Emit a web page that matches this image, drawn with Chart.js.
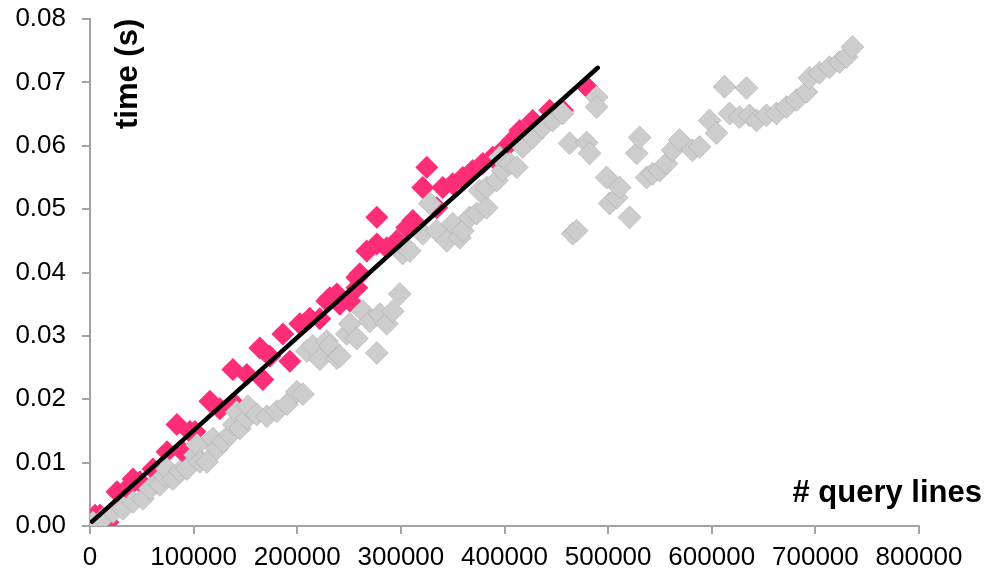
<!DOCTYPE html>
<html>
<head>
<meta charset="utf-8">
<script src="https://cdn.jsdelivr.net/npm/chart.js@4.4.1/dist/chart.umd.min.js"></script>
<style>
  html, body { margin: 0; padding: 0; background: #fff; }
  canvas { display: block; }
</style>
</head>
<body>
<canvas id="timeChart" width="987" height="571"></canvas>
<script>
// gray series (all runs)
const grayX = [2900, 12500, 22200, 31800, 41500, 51100, 57900, 65000, 67500, 72300, 74300, 80000, 86800, 93500,
  101300, 103200, 106100, 112800, 118600, 122500, 128300, 135000, 138900, 141500, 144600, 151400, 152400,
  161000, 170700, 180300, 190000, 199600, 205400, 209300, 215000, 221800, 228500, 231400, 238200, 241100,
  247800, 250700, 257500, 263300, 270000, 276800, 279600, 286400, 292200, 298900, 301800, 308600, 321100,
  327900, 334600, 344300, 350000, 356800, 359700, 366400, 373200, 376100, 382800, 382800, 392500, 395400,
  398300, 405000, 411800, 417500, 427200, 436800, 446500, 456100, 462900, 465800, 469600, 479300, 482100,
  488900, 488900, 498500, 501400, 508200, 511100, 520700, 527500, 530400, 537100, 542900, 549700, 556400,
  562200, 568900, 581500, 588200, 597900, 604600, 612300, 617200, 626800, 633600, 636400, 643200, 652800,
  662500, 672100, 681800, 691400, 694300, 703900, 713600, 723200, 730000, 735800];
const grayY = [0.0006, 0.0011, 0.0022, 0.0027, 0.0038, 0.0043, 0.0059, 0.0069, 0.0065, 0.0079, 0.0090, 0.0074, 0.0086, 0.0090,
  0.0112, 0.0128, 0.0101, 0.0101, 0.0138, 0.0122, 0.0133, 0.0144, 0.0160, 0.0180, 0.0154, 0.0170, 0.0189,
  0.0176, 0.0173, 0.0181, 0.0192, 0.0212, 0.0208, 0.0276, 0.0284, 0.0263, 0.0292, 0.0284, 0.0265, 0.0268,
  0.0303, 0.0319, 0.0296, 0.0339, 0.0323, 0.0273, 0.0334, 0.0319, 0.0339, 0.0366, 0.0430, 0.0434, 0.0461,
  0.0509, 0.0466, 0.0450, 0.0477, 0.0455, 0.0466, 0.0487, 0.0493, 0.0529, 0.0502, 0.0534, 0.0545, 0.0582,
  0.0561, 0.0572, 0.0566, 0.0598, 0.0613, 0.0629, 0.0640, 0.0651, 0.0604, 0.0461, 0.0466, 0.0605, 0.0588,
  0.0677, 0.0661, 0.0550, 0.0509, 0.0518, 0.0534, 0.0487, 0.0588, 0.0613, 0.0550, 0.0556, 0.0561, 0.0572,
  0.0593, 0.0609, 0.0593, 0.0598, 0.0640, 0.0620, 0.0693, 0.0651, 0.0645, 0.0691, 0.0648, 0.0640, 0.0648,
  0.0651, 0.0661, 0.0672, 0.0685, 0.0707, 0.0715, 0.0724, 0.0732, 0.0740, 0.0756];

// pink series
const pinkX = [0, 4800, 9600, 17400, 26000, 35700, 41500, 48200, 60800, 74300, 83900, 89700, 96400, 101300,
  115700, 125400, 137900, 139800, 151400, 163900, 166800, 173600, 186100, 192900, 202500, 212100, 221800,
  228500, 231400, 238200, 241100, 250700, 257500, 257500, 260400, 267100, 276800, 276800, 286400, 296000,
  305700, 311500, 321100, 325000, 334600, 340400, 350000, 359700, 369300, 379000, 388600, 398300, 407900,
  414700, 427200, 443600, 456100, 479300];
const pinkY = [0.0001, 0.0017, 0.0017, 0.0006, 0.0054, 0.0059, 0.0074, 0.0070, 0.0090, 0.0117, 0.0160, 0.0117, 0.0149, 0.0149,
  0.0197, 0.0185, 0.0247, 0.0192, 0.0239, 0.0281, 0.0231, 0.0268, 0.0303, 0.0260, 0.0319, 0.0328, 0.0327,
  0.0355, 0.0360, 0.0366, 0.0350, 0.0355, 0.0392, 0.0376, 0.0398, 0.0434, 0.0445, 0.0487, 0.0439, 0.0450,
  0.0471, 0.0482, 0.0534, 0.0566, 0.0502, 0.0534, 0.0540, 0.0550, 0.0561, 0.0572, 0.0582, 0.0593, 0.0609,
  0.0624, 0.0640, 0.0656, 0.0656, 0.0693];

// linear fit
const trendX = [2000, 490000];
const trendY = [0.0007, 0.0723];

const xTicks = [0, 100000, 200000, 300000, 400000, 500000, 600000, 700000, 800000];
const yTicks = [0, 0.01, 0.02, 0.03, 0.04, 0.05, 0.06, 0.07, 0.08];

const zip = (xs, ys) => xs.map((x, i) => ({ x, y: ys[i] }));

const FONT = '"Liberation Sans", Arial, sans-serif';
const AXIS_GRAY = '#a3a3a3';

const axisTitles = {
    id: 'axisTitles',
    afterDraw(chart) {
        const { ctx, chartArea: a } = chart;
        ctx.save();
        ctx.fillStyle = '#000';
        ctx.font = 'bold 31px ' + FONT;
        ctx.textBaseline = 'alphabetic';
        ctx.textAlign = 'right';
        ctx.fillText('# query lines', a.right + 63, a.bottom - 24);
        ctx.translate(a.left + 47, a.top + 110);
        ctx.rotate(-Math.PI / 2);
        ctx.textAlign = 'left';
        ctx.fillText('time (s)', 0, 0);
        ctx.restore();
    }
};

new Chart(document.getElementById('timeChart'), {
    type: 'scatter',
    data: {
        datasets: [
            {
                data: zip(trendX, trendY),
                showLine: true,
                borderColor: '#000',
                borderWidth: 4.5,
                borderCapStyle: 'round',
                pointRadius: 0,
                order: 0
            },
            {
                data: zip(grayX, grayY),
                pointStyle: 'rectRot',
                pointRadius: 11.5,
                backgroundColor: '#cdcdcd',
                borderColor: 'rgba(160,160,160,0.45)',
                borderWidth: 1,
                order: 1
            },
            {
                data: zip(pinkX, pinkY),
                pointStyle: 'rectRot',
                pointRadius: 11.5,
                backgroundColor: '#fe2d78',
                borderWidth: 0,
                order: 2
            }
        ]
    },
    options: {
        responsive: false,
        animation: false,
        layout: { padding: { top: 19, right: 68, left: 0, bottom: 0 } },
        plugins: { legend: { display: false }, tooltip: { enabled: false } },
        scales: {
            x: {
                type: 'linear',
                min: 0,
                max: 800000,
                afterFit: s => { s.height = 45; s.paddingLeft = 0; s.paddingRight = 0; },
                afterBuildTicks: s => { s.ticks = xTicks.map(v => ({ value: v })); },
                ticks: { color: '#000', font: { family: FONT, size: 26 }, padding: 8, maxRotation: 0, callback: v => String(v) },
                grid: { drawOnChartArea: false, tickLength: 8, color: AXIS_GRAY, lineWidth: 2 },
                border: { color: AXIS_GRAY, width: 2 }
            },
            y: {
                type: 'linear',
                min: 0,
                max: 0.08,
                afterFit: s => { s.width = 90; s.paddingTop = 0; s.paddingBottom = 0; },
                afterBuildTicks: s => { s.ticks = yTicks.map(v => ({ value: v })); },
                ticks: { color: '#000', font: { family: FONT, size: 26 }, padding: 16, callback: v => v.toFixed(2) },
                grid: { drawOnChartArea: false, tickLength: 8, color: AXIS_GRAY, lineWidth: 2 },
                border: { color: AXIS_GRAY, width: 2 }
            }
        }
    },
    plugins: [axisTitles]
});
</script>
</body>
</html>
